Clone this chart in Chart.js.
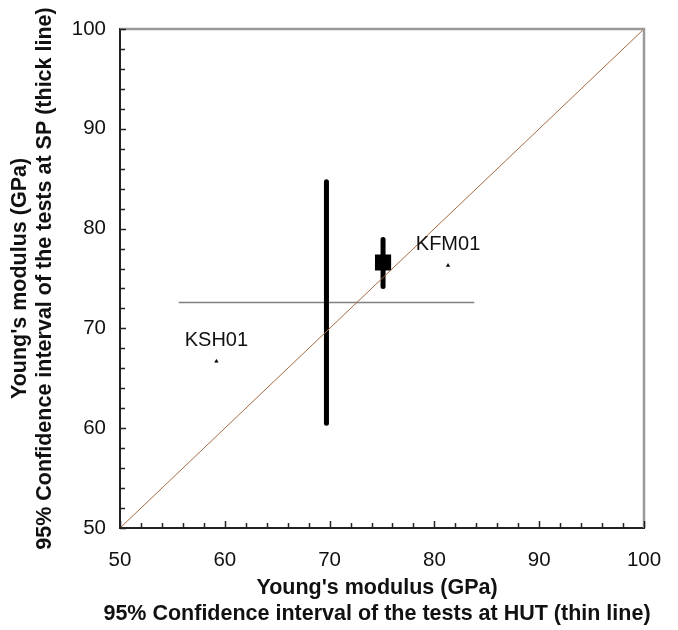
<!DOCTYPE html>
<html>
<head>
<meta charset="utf-8">
<script src="https://cdn.jsdelivr.net/npm/chart.js@4/dist/chart.umd.min.js"></script>
<style>
    html, body { margin: 0; padding: 0; background: #fff; }
    #wrap { width: 678px; height: 630px; position: relative; }
</style>
</head>
<body>
<div id="wrap"><canvas id="modulus-chart"></canvas></div>
<script>
// boreholes compared between the two labs
var samples = ['KSH01', 'KFM01'];
// HUT results (x): mean and 95% confidence interval
var hutMean = [69.7, 75.1];
var hutLow = [55.6, 74.5];
var hutHigh = [83.8, 75.7];
// SP results (y): mean and 95% confidence interval
var spMean = [72.6, 76.6];
var spLow = [60.5, 74.2];
var spHigh = [84.7, 78.9];
// where the borehole name tags sit
var tagX = [59.2, 81.3];
var tagY = [66.7, 76.3];
// 1:1 reference line
var equalLine = [50, 100];
var axisMin = 50;
var axisMax = 100;

var xTitle = ["Young's modulus (GPa)", '95% Confidence interval of the tests at HUT (thin line)'];
var yTitle = ["Young's modulus (GPa)", '95% Confidence interval of the tests at SP (thick line)'];

var fontFamily = "'Liberation Sans', Arial, sans-serif";

// thin horizontal line per borehole
var hutSets = samples.map(function(name, i) {
    return {
        label: name + ' HUT',
        data: [{x: hutLow[i], y: spMean[i]}, {x: hutHigh[i], y: spMean[i]}],
        showLine: true,
        borderColor: '#808080',
        borderWidth: 1.5,
        pointRadius: 0,
        order: 4,
    };
});

// thick vertical line per borehole
var spSets = samples.map(function(name, i) {
    return {
        label: name + ' SP',
        data: [{x: hutMean[i], y: spLow[i]}, {x: hutMean[i], y: spHigh[i]}],
        showLine: true,
        borderColor: '#000',
        borderWidth: 5,
        borderCapStyle: 'round',
        pointRadius: 0,
        order: 3,
    };
});

var datasets = hutSets.concat(spSets);

// square on KFM01
datasets.push({
    label: 'KFM01 mean',
    data: [{x: hutMean[1], y: spMean[1]}],
    pointStyle: 'rect',
    pointRadius: 10,
    backgroundColor: '#000',
    borderColor: '#000',
    borderWidth: 2,
    borderJoinStyle: 'round',
    order: 2,
});

// small name markers
datasets.push({
    label: 'tags',
    data: samples.map(function(name, i) { return {x: tagX[i], y: tagY[i]}; }),
    pointStyle: 'triangle',
    pointRadius: 2,
    backgroundColor: '#000',
    borderColor: '#000',
    borderWidth: 0.5,
    order: 1,
});

datasets.push({
    label: '1:1',
    data: equalLine.map(function(v) { return {x: v, y: v}; }),
    showLine: true,
    borderColor: '#a66b42',
    borderWidth: 1,
    pointRadius: 0,
    order: 0,
});

// names above the tag markers
var tagLabels = {
    id: 'tagLabels',
    afterDatasetsDraw: function(chart) {
        var idx = chart.data.datasets.findIndex(function(d) { return d.label === 'tags'; });
        var meta = chart.getDatasetMeta(idx);
        var ctx = chart.ctx;
        ctx.save();
        ctx.font = '20px ' + fontFamily;
        ctx.fillStyle = '#111';
        ctx.textAlign = 'center';
        ctx.textBaseline = 'middle';
        meta.data.forEach(function(pt, i) {
            ctx.fillText(samples[i], pt.x, pt.y - 21);
        });
        ctx.restore();
    }
};

// x title is wider than the plot, so it is drawn here without the scale's maxWidth squeeze
var bottomTitle = {
    id: 'bottomTitle',
    afterDraw: function(chart) {
        var ctx = chart.ctx;
        var area = chart.chartArea;
        var cx = (area.left + area.right) / 2 - 5;
        ctx.save();
        ctx.font = 'bold 21.5px ' + fontFamily;
        ctx.fillStyle = '#111';
        ctx.textAlign = 'center';
        ctx.textBaseline = 'middle';
        xTitle.forEach(function(line, i) {
            ctx.fillText(line, cx, area.bottom + 60.5 + i * 26);
        });
        ctx.restore();
    }
};

// grey frame on top/right and inward tick marks
var frame = {
    id: 'frame',
    afterDraw: function(chart) {
        var ctx = chart.ctx;
        var area = chart.chartArea;
        var xs = chart.scales.x;
        var ys = chart.scales.y;
        ctx.save();
        ctx.strokeStyle = '#9a9a9a';
        ctx.lineWidth = 2.5;
        ctx.beginPath();
        ctx.moveTo(area.left, area.top);
        ctx.lineTo(area.right, area.top);
        ctx.lineTo(area.right, area.bottom);
        ctx.stroke();

        ctx.strokeStyle = '#222';
        ctx.lineWidth = 1.5;
        ctx.beginPath();
        xs.ticks.forEach(function(t) {
            var len = t.value % 10 === 0 ? 7 : 5;
            var px = Math.round(xs.getPixelForValue(t.value)) + 0.5;
            ctx.moveTo(px, area.bottom);
            ctx.lineTo(px, area.bottom - len);
        });
        ys.ticks.forEach(function(t) {
            var len = t.value % 10 === 0 ? 6 : 5;
            var py = Math.round(ys.getPixelForValue(t.value)) + 0.5;
            ctx.moveTo(area.left, py);
            ctx.lineTo(area.left + len, py);
        });
        ctx.stroke();
        ctx.restore();
    }
};

function tenOnly(value) {
    return value % 10 === 0 ? value : '';
}

new Chart(document.getElementById('modulus-chart'), {
    type: 'scatter',
    data: { datasets: datasets },
    options: {
        responsive: true,
        maintainAspectRatio: false,
        animation: false,
        layout: { padding: { top: 29, right: 34, left: 0, bottom: 0 } },
        plugins: {
            legend: { display: false },
            tooltip: { enabled: false },
        },
        scales: {
            x: {
                type: 'linear',
                min: axisMin,
                max: axisMax,
                grid: { display: false },
                border: { display: true, color: '#222', width: 2 },
                ticks: {
                    stepSize: 2,
                    autoSkip: false,
                    maxRotation: 0,
                    padding: 12,
                    color: '#111',
                    font: { family: fontFamily, size: 20.5 },
                    callback: tenOnly,
                },
                title: { display: false },
                afterFit: function(scale) { scale.height = 102; },
            },
            y: {
                type: 'linear',
                min: axisMin,
                max: axisMax,
                grid: { display: false },
                border: { display: true, color: '#222', width: 2 },
                ticks: {
                    stepSize: 2,
                    autoSkip: false,
                    padding: 6,
                    color: '#111',
                    font: { family: fontFamily, size: 20.5 },
                    callback: tenOnly,
                },
                title: {
                    display: true,
                    text: yTitle,
                    color: '#111',
                    font: { family: fontFamily, size: 21.5, weight: 'bold', lineHeight: 1.18 },
                    padding: { top: 7, bottom: 0 },
                },
                afterFit: function(scale) { scale.width = 120; },
            },
        },
    },
    plugins: [tagLabels, frame, bottomTitle],
});
</script>
</body>
</html>
